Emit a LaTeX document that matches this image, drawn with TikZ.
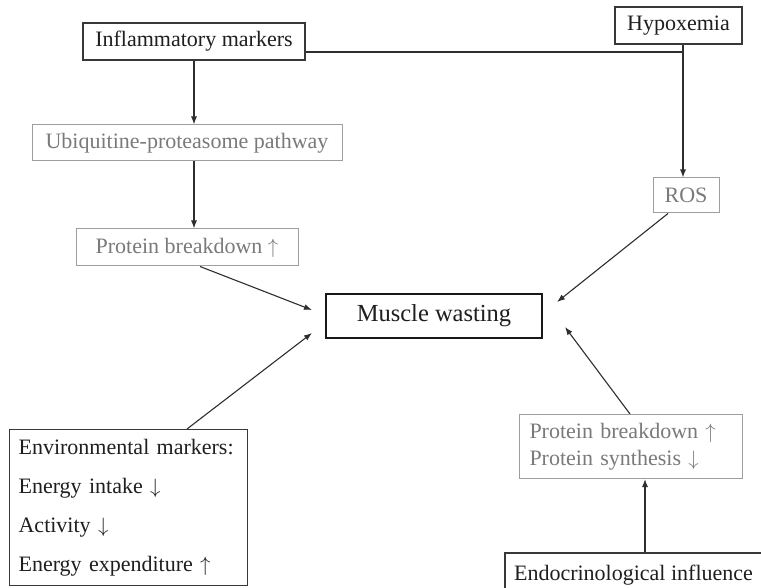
\documentclass[tikz,border=0pt]{standalone}
\usepackage{fontspec}
\setmainfont{Liberation Serif}
\usetikzlibrary{arrows.meta}
\newcommand{\upar}{\ensuremath{\uparrow}}
\newcommand{\dnar}{\ensuremath{\downarrow}}
\begin{document}
\begin{tikzpicture}[x=1pt,y=-1pt,
  txt/.style={font=\fontsize{22}{26}\selectfont},
  box/.style={txt, draw=black!78, line width=1.2pt, inner sep=0pt, text=black!88},
  gbox/.style={txt, draw=black!38, line width=1pt, inner sep=0pt, text=black!52},
  mainbox/.style={box, line width=2.2pt, draw=black!90, font=\fontsize{24.5}{28}\selectfont},
  arr/.style={-{Latex[length=8pt,width=6pt]}, line width=1.1pt, draw=black!82},
  link/.style={line width=1.1pt, draw=black!82}]
\useasboundingbox[fill=white] (0,0) rectangle (761,588);

% upstream factors
\node[box, minimum width=222, minimum height=37] (infl) at (194,41.5) {Inflammatory markers};
\node[box, minimum width=127, minimum height=37] (hypo) at (678.5,25.5) {Hypoxemia};

% intermediate mechanisms
\node[gbox, minimum width=310, minimum height=36] (ubi) at (187,143) {Ubiquitine-proteasome pathway};
\node[gbox, minimum width=222, minimum height=37] (pb1) at (187,247.5) {Protein breakdown \upar};
\node[gbox, minimum width=66, minimum height=35] (ros) at (686,195.5) {ROS};

% outcome
\node[mainbox, minimum width=216, minimum height=44] (mw) at (434,316) {Muscle wasting};

% lower factors
\node[box, anchor=north west, inner xsep=9pt, text width=220pt, minimum height=156, align=left,
      font=\fontsize{22}{39}\selectfont] (env) at (9,429)
  {Environmental markers:\\ Energy intake \dnar\\ Activity \dnar\\ Energy expenditure \upar};
\node[gbox, anchor=north west, inner xsep=10pt, text width=203pt, minimum height=64, align=left,
      font=\fontsize{22}{27}\selectfont] (pb2) at (519,414)
  {Protein breakdown \upar\\ Protein synthesis \dnar};
\node[box, minimum width=257, minimum height=44] (endo) at (633.5,575) {Endocrinological influence};

% junction of the two top branches and arrow targets around the outcome box
\coordinate (j) at (683,52);
\coordinate (mwA) at (312,310);
\coordinate (mwB) at (312,333);
\coordinate (mwC) at (557,302);
\coordinate (mwD) at (565,327);

% connectors
\draw[arr] (infl.south) -- (infl.south |- ubi.north);
\draw[link] (infl.east |- j) -- (j);
\draw[arr] (j |- hypo.south) -- (j |- ros.north);
\draw[arr] (ubi.south -| infl.south) -- (pb1.north -| infl.south);
\draw[arr] ([xshift=13pt]pb1.south) -- (mwA);
\draw[arr] ([xshift=-18pt]ros.south) -- (mwC);
\draw[arr] ([xshift=178pt]env.north west) -- (mwB);
\draw[arr] ([xshift=111pt]pb2.north west) -- (mwD);
\draw[arr] ([xshift=11.5pt]endo.north) -- ([xshift=11.5pt]endo.north |- pb2.south);
\end{tikzpicture}
\end{document}
